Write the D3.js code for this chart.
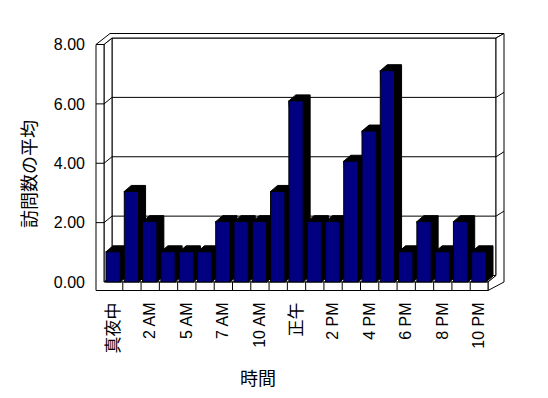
<!doctype html>
<html>
<head>
<meta charset="utf-8">
<script src="https://d3js.org/d3.v7.min.js"></script>
<style>
  body { margin: 0; background: #fff; }
  text { font-family: "Liberation Sans", Arial, "Noto Sans CJK JP", sans-serif; }
</style>
</head>
<body>
<svg width="548" height="398"></svg>
<script>
// data
var categories = ["真夜中", "1 AM", "2 AM", "4 AM", "5 AM", "6 AM", "7 AM", "9 AM", "10 AM", "11 AM",
                  "正午", "1 PM", "2 PM", "3 PM", "4 PM", "5 PM", "6 PM", "7 PM", "8 PM", "9 PM", "10 PM"];
var visits = [1, 3, 2, 1, 1, 1, 2, 2, 2, 3, 6, 2, 2, 4, 5, 7, 1, 2, 1, 2, 1];
var yTicks = [0, 2, 4, 6, 8];
var yTitle = "訪問数の平均";
var xTitle = "時間";

var svg = d3.select("svg");

// front plane of the 3d box
var left = 104, right = 488, floorY = 282;
var dx = 8, dy = -6.5;      // depth of the plot
var wall = 8;               // wall / floor thickness

var x = d3.scaleBand().domain(categories).range([left, right]).padding(0);
var y = d3.scaleLinear().domain([0, 8]).range([floorY, 44.5]);
var yBar = d3.scaleLinear().domain([0, 8]).range([floorY, 40.5]);

function pts(a) { return a.map(function (p) { return p.join(","); }).join(" "); }

var box = svg.append("g").attr("fill", "#fff").attr("stroke", "#000").attr("stroke-width", 1);

var yTop = y(8);
// back wall face
box.append("polygon").attr("points", pts([[left + dx, yTop + dy], [right + dx, yTop + dy],
  [right + dx, floorY + dy], [left + dx, floorY + dy]]));
// floor top
box.append("polygon").attr("points", pts([[left, floorY], [right, floorY],
  [right + dx, floorY + dy], [left + dx, floorY + dy]]));
// left wall inner face
box.append("polygon").attr("points", pts([[left, yTop], [left + dx, yTop + dy],
  [left + dx, floorY + dy], [left, floorY]]));
// top edges of the walls
box.append("polygon").attr("points", pts([[left - wall, yTop], [left - wall + 14, yTop - 11],
  [right + dx + wall, yTop - 11], [right + dx, yTop + dy], [left + dx, yTop + dy], [left, yTop]]));
// right side of back wall + floor
box.append("polygon").attr("points", pts([[right, floorY], [right + dx, floorY + dy],
  [right + dx, yTop + dy], [right + dx + wall, yTop - 11], [right + dx + wall, floorY],
  [right, floorY + 8.5]]));
// front of left wall + floor (L shape)
box.append("polygon").attr("points", pts([[left - wall, yTop], [left, yTop], [left, floorY],
  [right, floorY], [right, floorY + 8.5], [left - wall, floorY + 8.5]]));

// gridlines
var grid = svg.append("g").attr("stroke", "#000").attr("fill", "none");
yTicks.filter(function (v) { return v > 0 && v < 8; }).forEach(function (v) {
  var yy = y(v);
  grid.append("polyline").attr("points", pts([[left - wall, yy], [left, yy], [left + dx, yy + dy],
    [right + dx, yy + dy], [right + dx + wall, yy + dy - 5]]));
});

// category ticks on the floor front
grid.selectAll("line.tick").data(categories.slice(1)).enter().append("line")
  .attr("x1", function (d) { return x(d) + 0.5; })
  .attr("x2", function (d) { return x(d) + 0.5; })
  .attr("y1", floorY).attr("y2", floorY + 8.5);

// bars
var bdx = 7, bdy = -6;
var bars = svg.append("g").selectAll("g").data(categories).enter().append("g");
bars.append("polygon")
  .attr("fill", "#000").attr("stroke", "#000")
  .attr("points", function (d, i) {
    var x0 = x(d) + 2, x1 = x(d) + x.bandwidth() - 2, yt = yBar(visits[i]);
    return pts([[x0, yt], [x0 + bdx, yt + bdy], [x1 + bdx, yt + bdy],
      [x1 + bdx, floorY + bdy], [x1, floorY]]);
  });
bars.append("rect")
  .attr("fill", "#000080").attr("stroke", "#000")
  .attr("x", function (d) { return x(d) + 2; })
  .attr("width", x.bandwidth() - 4)
  .attr("y", function (d, i) { return yBar(visits[i]); })
  .attr("height", function (d, i) { return floorY - yBar(visits[i]); });

// y axis labels
var yAxis = svg.append("g")
  .attr("transform", "translate(" + (left - wall - 7) + ",0)")
  .call(d3.axisLeft(y).tickValues(yTicks).tickFormat(d3.format(".2f")).tickSize(0).tickPadding(4));
yAxis.select(".domain").remove();
yAxis.selectAll("text").attr("font-size", 16).attr("fill", "#000")
  .style("font-family", "'Liberation Sans', Arial, sans-serif");

// x axis labels, every other category
var xAxis = svg.append("g")
  .attr("transform", "translate(0," + (floorY + 8.5) + ")")
  .call(d3.axisBottom(x).tickValues(categories.filter(function (d, i) { return i % 2 === 0; }))
    .tickSize(0));
xAxis.select(".domain").remove();
xAxis.selectAll("text")
  .attr("transform", "rotate(-90)")
  .attr("text-anchor", "end")
  .attr("x", -12).attr("y", 0).attr("dy", "0.35em")
  .attr("fill", "#000")
  .attr("font-size", function (d) { return /[^\x00-\x7f]/.test(d) ? 17 : 16; })
  .style("font-family", "'Liberation Sans', Arial, 'Noto Sans CJK JP', sans-serif");

// titles
svg.append("text")
  .attr("transform", "translate(28,174) rotate(-90)")
  .attr("text-anchor", "middle").attr("dominant-baseline", "central")
  .attr("font-size", 18).style("font-family", "'Noto Sans CJK JP', sans-serif")
  .text(yTitle);
svg.append("text")
  .attr("x", 258).attr("y", 377)
  .attr("text-anchor", "middle").attr("dominant-baseline", "central")
  .attr("font-size", 18).style("font-family", "'Noto Sans CJK JP', sans-serif")
  .text(xTitle);
</script>
</body>
</html>
